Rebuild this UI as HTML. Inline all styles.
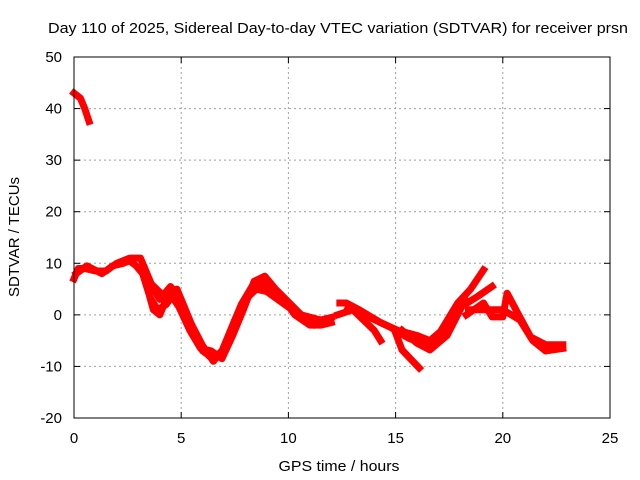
<!DOCTYPE html>
<html><head><meta charset="utf-8"><style>
html,body{margin:0;padding:0;background:#fff;}
svg{display:block;font-family:"Liberation Sans",sans-serif;}
</style></head><body>
<svg id="chart" width="640" height="480">
<text x="338" y="33" font-size="15" text-anchor="middle" textLength="580" lengthAdjust="spacingAndGlyphs">Day 110 of 2025, Sidereal Day-to-day VTEC variation (SDTVAR) for receiver prsn</text>
<g id="grid"></g><g id="marks"></g><g id="axes"></g>
<text x="339" y="471" font-size="15" text-anchor="middle" textLength="121" lengthAdjust="spacingAndGlyphs">GPS time / hours</text>
<text transform="translate(19,237) rotate(-90)" font-size="15" text-anchor="middle" textLength="120" lengthAdjust="spacingAndGlyphs">SDTVAR / TECUs</text>
</svg>
<script>
const xTicks=[0,5,10,15,20,25];
const yTicks=[-20,-10,0,10,20,30,40,50];
const trackEarly=[[0,43],[0.3,42],[0.5,40],[0.7,37.5]];
const trackMain1=[[0,7],[0.2,9],[0.5,9],[1,8.5],[1.5,8.5],[1.8,9.5],[2.3,10],[2.6,10.5],[2.9,9.5],[3.2,8],[3.5,4],[3.7,1],[4,0],[4.3,3],[4.6,4],[4.9,3],[5.2,0],[5.6,-4],[6,-7],[6.5,-8.5],[6.9,-7],[7.3,-3],[7.8,2],[8.3,5.5],[8.7,7],[9.1,6],[9.6,4],[10.2,1],[10.7,-1],[11.2,-2],[11.8,-1]];
const trackMain2=[[0.1,8],[0.6,9.5],[1.3,8],[2,10],[2.6,11],[3.1,11],[3.4,8],[3.7,5],[4,3],[4.5,5.5],[5,3],[5.3,-1],[5.8,-5],[6.3,-8],[6.8,-8],[7.2,-5],[7.7,0],[8.2,4],[8.6,6],[9.2,5],[9.8,3],[10.3,0],[11,-2],[11.5,-2],[12,-1.5]];
const trackMain3=[[3.6,3],[3.9,1],[4.3,2],[4.8,5],[5.1,2],[5.5,-2],[6,-6],[6.5,-9],[7,-6.5],[7.5,-1],[8,3],[8.5,5],[9,4.5],[9.5,3],[10,1.5]];
const trackMain4=[[3.3,9],[3.6,6],[4.1,4],[4.5,4],[4.9,1.5],[5.4,-3],[5.9,-6.5],[6.4,-7],[6.9,-8.5],[7.4,-4],[7.9,1],[8.4,6.5],[8.9,7.5],[9.4,5],[10,2.5],[10.6,0],[11.5,-1],[12,-0.5]];
const trackLate1=[[12.4,2.3],[12.7,2.3],[13.3,1],[14.3,-1.5],[15.1,-3],[16,-4],[16.6,-5],[17.1,-3.2],[17.9,2.3],[18.5,5],[19.1,8.7]];
const trackLate2=[[12.3,0],[13,1],[13.5,-1],[14,-3],[14.3,-5]];
const trackLate3=[[15.3,-3],[16,-5.5],[16.6,-6.8],[17.4,-4],[18.1,1.7],[18.8,3.5],[19.5,5.5]];
const trackLate4=[[18.3,0],[19.1,2.3],[19.5,-0.4],[20,-0.4],[20.2,4.2],[20.7,0.3],[21.3,-4.3],[22,-5.8],[22.8,-5.8]];
const trackLate5=[[18.4,1],[19,1],[19.5,1],[20,1],[20.8,-1],[21.4,-5],[22,-7],[22.8,-6.5]];
const trackLate6=[[12.8,1.5],[13.8,-0.5],[14.8,-2.5],[15.6,-4.5],[16.4,-5.8],[17,-5],[17.6,-1],[18.2,3]];
const trackDip=[[15,-3.5],[15.3,-6.8],[16.1,-10.3]];
const tracks=[trackEarly,trackMain1,trackMain2,trackMain3,trackMain4,trackLate1,trackLate2,trackLate3,trackLate4,trackLate5,trackLate6,trackDip];
const X0=74,X1=610,Y0=418,Y1=57;
function xs(h){return X0+(h-0)/(25-0)*(X1-X0);}
function ys(v){return Y0-(v+20)/70*(Y0-Y1);}
const NS="http://www.w3.org/2000/svg";
function mk(tag,attrs,parent){const e=document.createElementNS(NS,tag);for(const k in attrs)e.setAttribute(k,attrs[k]);parent.appendChild(e);return e;}
const grid=document.getElementById('grid'),axes=document.getElementById('axes'),marks=document.getElementById('marks');
xTicks.forEach(t=>{const x=xs(t);
 if(t>0&&t<25){const l=mk('line',{x1:x,x2:x,y1:Y1,y2:Y0,stroke:'#a0a0a0','stroke-dasharray':'2,3'},grid);
 
 }
 mk('line',{x1:x,x2:x,y1:Y0,y2:Y0-6,stroke:'#000'},axes);
 mk('line',{x1:x,x2:x,y1:Y1,y2:Y1+6,stroke:'#000'},axes);
 const tx=mk('text',{x:x,y:443,'font-size':15,'text-anchor':'middle'},axes);tx.textContent=t;
 
 
});
yTicks.forEach(t=>{const y=ys(t);
 if(t>-20&&t<50){const l=mk('line',{x1:X0,x2:X1,y1:y,y2:y,stroke:'#a0a0a0','stroke-dasharray':'2,3'},grid);
 
 }
 mk('line',{x1:X0,x2:X0+6,y1:y,y2:y,stroke:'#000'},axes);
 mk('line',{x1:X1,x2:X1-6,y1:y,y2:y,stroke:'#000'},axes);
 const tx=mk('text',{x:62,y:y+5,'font-size':15,'text-anchor':'end'},axes);tx.textContent=t;
 
 
});
const frame=mk('rect',{x:X0,y:Y1,width:X1-X0,height:Y0-Y1,fill:'none',stroke:'#000'},axes);


tracks.forEach(tr=>{
 const p=mk('polyline',{points:tr.map(d=>xs(d[0])+','+ys(d[1])).join(' '),fill:'none',stroke:'#ff0000','stroke-width':7,'stroke-linejoin':'round','stroke-linecap':'square'},marks);
 
 
});
</script>
</body></html>
